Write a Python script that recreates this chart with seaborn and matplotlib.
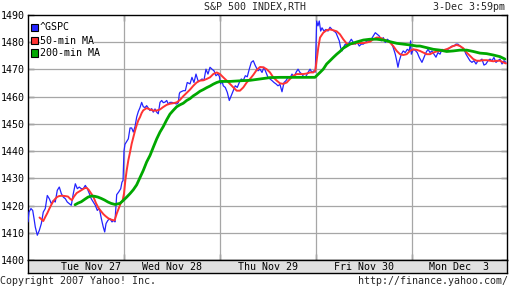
import matplotlib
matplotlib.use("Agg")
import matplotlib.pyplot as plt
import seaborn as sns
import pandas as pd
from matplotlib.patches import Rectangle

# ---------------- data (time in trading days since Tue Nov 27 open) ----------------
gspc_t = [0.000, 0.010, 0.031, 0.049, 0.063, 0.076, 0.097, 0.118, 0.139, 0.159, 0.180, 0.201,
          0.222, 0.243, 0.264, 0.284, 0.305, 0.326, 0.347, 0.368, 0.389, 0.409, 0.430, 0.451,
          0.472, 0.493, 0.514, 0.534, 0.555, 0.576, 0.597, 0.618, 0.639, 0.659, 0.680, 0.701,
          0.722, 0.743, 0.764, 0.784, 0.799, 0.813, 0.833, 0.854, 0.875, 0.896, 0.906, 0.924,
          0.945, 0.966, 0.979, 0.990,
          1.000, 1.010, 1.028, 1.045, 1.063, 1.080, 1.097, 1.115, 1.132, 1.149, 1.167, 1.184,
          1.201, 1.219, 1.236, 1.253, 1.271, 1.289, 1.305, 1.323, 1.341, 1.357, 1.375, 1.393,
          1.409, 1.427, 1.445, 1.461, 1.479, 1.500, 1.521, 1.549, 1.566, 1.576, 1.583, 1.618,
          1.639, 1.659, 1.688, 1.708, 1.729, 1.750, 1.771, 1.792, 1.813, 1.833, 1.854, 1.875,
          1.896, 1.917, 1.938, 1.958, 1.979, 1.993,
          2.007, 2.021, 2.034, 2.055, 2.076, 2.097, 2.118, 2.139, 2.159, 2.180, 2.201, 2.222,
          2.243, 2.264, 2.284, 2.305, 2.326, 2.347, 2.368, 2.396, 2.417, 2.438, 2.458, 2.479,
          2.500, 2.521, 2.542, 2.563, 2.583, 2.604, 2.625, 2.646, 2.667, 2.688, 2.708, 2.729,
          2.750, 2.771, 2.792, 2.813, 2.833, 2.854, 2.875, 2.896, 2.917, 2.938, 2.958, 2.979,
          2.993,
          3.007, 3.021, 3.034, 3.049, 3.063, 3.083, 3.104, 3.125, 3.146, 3.167, 3.188, 3.208,
          3.229, 3.243, 3.257, 3.271, 3.284, 3.305, 3.326, 3.347, 3.368, 3.389, 3.409, 3.430,
          3.451, 3.472, 3.493, 3.514, 3.534, 3.555, 3.576, 3.597, 3.618, 3.639, 3.659, 3.680,
          3.701, 3.722, 3.743, 3.764, 3.784, 3.805, 3.826, 3.841, 3.854, 3.868, 3.889, 3.909,
          3.930, 3.951, 3.972, 3.986, 3.993,
          4.014, 4.034, 4.055, 4.076, 4.104, 4.125, 4.146, 4.167, 4.188, 4.208, 4.229, 4.250,
          4.271, 4.292, 4.313, 4.333, 4.354, 4.375, 4.396, 4.417, 4.438, 4.458, 4.479, 4.500,
          4.521, 4.542, 4.563, 4.583, 4.604, 4.625, 4.646, 4.667, 4.688, 4.708, 4.729, 4.750,
          4.771, 4.792, 4.813, 4.833, 4.854, 4.875, 4.896, 4.917, 4.938, 4.958, 4.979]
gspc_v = [1414.0, 1417.6, 1418.9, 1418.2, 1415.2, 1412.1, 1409.1, 1410.9, 1413.4, 1417.6, 1418.9, 1423.7,
          1422.5, 1420.7, 1421.9, 1421.3, 1425.6, 1426.8, 1424.4, 1423.1, 1422.5, 1421.3, 1420.7, 1420.1,
          1424.4, 1428.0, 1426.2, 1426.8, 1426.2, 1426.2, 1427.4, 1426.2, 1424.4, 1422.5, 1421.3, 1420.1,
          1418.2, 1419.0, 1415.2, 1412.1, 1410.3, 1413.4, 1414.6, 1415.2, 1414.0, 1414.6, 1414.0, 1424.0,
          1425.0, 1426.2, 1428.6, 1429.2,
          1440.0, 1442.5, 1443.5, 1444.5, 1448.5, 1448.5, 1447.0, 1449.0, 1452.5, 1454.5, 1456.0, 1457.9,
          1456.3, 1456.0, 1456.7, 1455.8, 1454.9, 1455.6, 1454.3, 1455.5, 1454.3, 1453.7, 1457.9, 1458.6,
          1457.8, 1458.0, 1458.6, 1457.3, 1457.9, 1457.9, 1457.6, 1457.3, 1457.8, 1461.0, 1461.6, 1462.2,
          1462.2, 1465.2, 1464.7, 1467.1, 1465.2, 1468.3, 1465.9, 1465.9, 1466.5, 1466.0, 1470.1, 1468.3,
          1470.8, 1470.1, 1469.5, 1467.7, 1468.3, 1467.5,
          1464.7, 1465.9, 1464.0, 1463.4, 1461.6, 1458.6, 1460.4, 1462.2, 1464.0, 1463.4, 1465.2, 1466.5,
          1466.0, 1467.7, 1467.3, 1470.1, 1472.6, 1473.2, 1471.4, 1469.5, 1470.1, 1468.9, 1470.8, 1468.9,
          1467.1, 1466.5, 1465.9, 1465.2, 1464.7, 1464.0, 1464.5, 1461.8, 1465.2, 1465.9, 1467.1, 1466.8,
          1468.3, 1467.1, 1468.9, 1470.1, 1468.9, 1468.3, 1467.1, 1467.5, 1468.9, 1470.1, 1468.9, 1469.5,
          1469.0,
          1487.8, 1486.0, 1487.8, 1484.1, 1485.3, 1484.1, 1484.7, 1484.1, 1485.5, 1484.7, 1484.1, 1483.5,
          1481.7, 1480.5, 1478.0, 1476.8, 1478.0, 1479.3, 1479.0, 1479.9, 1481.1, 1479.9, 1479.3, 1479.9,
          1478.6, 1479.3, 1479.3, 1479.9, 1480.5, 1480.5, 1481.1, 1482.3, 1483.5, 1482.9, 1482.3, 1480.5,
          1481.7, 1479.9, 1481.1, 1480.5, 1479.9, 1478.0, 1475.6, 1473.2, 1470.8, 1473.2, 1475.6, 1476.8,
          1476.2, 1477.4, 1476.8, 1480.5, 1475.6,
          1477.4, 1477.0, 1476.2, 1474.4, 1472.6, 1474.4, 1476.2, 1477.4, 1476.2, 1476.8, 1475.6, 1474.5,
          1476.2, 1475.6, 1477.4, 1476.8, 1477.4, 1477.4, 1478.0, 1478.6, 1478.6, 1479.3, 1479.3, 1478.6,
          1478.0, 1477.4, 1475.6, 1474.4, 1473.2, 1472.6, 1473.2, 1472.0, 1473.2, 1473.2, 1473.8, 1471.6,
          1472.0, 1473.2, 1473.8, 1473.2, 1474.4, 1472.6, 1473.2, 1473.8, 1472.0, 1473.2, 1472.6]

ma50_t = [0.120, 0.139, 0.159, 0.180, 0.201, 0.222, 0.243, 0.264, 0.284, 0.305, 0.326, 0.354,
          0.385, 0.417, 0.438, 0.458, 0.479, 0.507, 0.534, 0.563, 0.591, 0.611, 0.632, 0.659,
          0.680, 0.708, 0.736, 0.764, 0.784, 0.805, 0.833, 0.854, 0.889, 0.903, 0.924, 0.945,
          0.966, 0.986,
          1.000, 1.014, 1.028, 1.045, 1.063, 1.080, 1.097, 1.115, 1.132, 1.149, 1.167, 1.184,
          1.201, 1.236, 1.271, 1.305, 1.341, 1.375, 1.409, 1.445, 1.479, 1.514, 1.549, 1.583,
          1.618, 1.653, 1.688, 1.722, 1.757, 1.792, 1.826, 1.861, 1.896, 1.930, 1.966,
          2.000, 2.034, 2.070, 2.104, 2.139, 2.174, 2.208, 2.243, 2.278, 2.313, 2.347, 2.382,
          2.417, 2.451, 2.486, 2.521, 2.555, 2.591, 2.625, 2.659, 2.695, 2.729, 2.764, 2.799,
          2.833, 2.868, 2.903, 2.938, 2.972, 2.993,
          3.007, 3.024, 3.042, 3.076, 3.111, 3.146, 3.180, 3.216, 3.250, 3.284, 3.320, 3.354,
          3.389, 3.424, 3.458, 3.493, 3.528, 3.563, 3.597, 3.632, 3.667, 3.701, 3.736, 3.771,
          3.805, 3.841, 3.875, 3.909, 3.945, 3.979,
          4.014, 4.049, 4.083, 4.118, 4.153, 4.188, 4.222, 4.257, 4.292, 4.326, 4.361, 4.396,
          4.430, 4.466, 4.500, 4.534, 4.570, 4.604, 4.639, 4.674, 4.708, 4.743, 4.778, 4.813,
          4.847, 4.882, 4.917, 4.951, 4.979]
ma50_v = [1415.6, 1415.0, 1414.3, 1415.8, 1417.2, 1418.8, 1420.3, 1421.6, 1422.5, 1423.2, 1423.5, 1423.6,
          1423.5, 1423.3, 1422.5, 1422.0, 1423.3, 1424.6, 1425.2, 1425.8, 1426.4, 1426.5, 1425.8, 1424.4,
          1423.3, 1420.9, 1419.0, 1417.8, 1416.9, 1416.2, 1415.4, 1415.0, 1414.6, 1414.6, 1417.0, 1418.9,
          1420.9, 1421.9,
          1424.4, 1429.2, 1432.9, 1436.6, 1439.6, 1442.7, 1445.0, 1447.5, 1449.5, 1451.3, 1452.5, 1454.0,
          1455.0, 1455.8, 1455.3, 1454.9, 1454.9, 1455.3, 1456.2, 1457.0, 1457.4, 1457.6, 1457.9, 1458.8,
          1460.2, 1461.4, 1462.6, 1464.0, 1465.2, 1465.9, 1466.0, 1466.5, 1467.1, 1468.3, 1468.9,
          1468.3, 1467.1, 1465.9, 1464.7, 1463.4, 1462.2, 1462.2, 1463.4, 1465.2, 1466.5, 1468.0, 1469.8,
          1470.9, 1470.8, 1470.1, 1468.9, 1467.1, 1465.9, 1464.9, 1464.7, 1465.2, 1466.5, 1467.7, 1468.3,
          1468.3, 1468.3, 1468.5, 1468.9, 1468.9, 1469.5,
          1473.2, 1478.0, 1481.7, 1483.5, 1484.4, 1484.7, 1484.4, 1484.0, 1482.9, 1481.1, 1479.5, 1479.3,
          1479.4, 1479.7, 1479.7, 1479.7, 1479.9, 1480.2, 1481.1, 1481.7, 1481.7, 1481.1, 1480.5, 1479.9,
          1478.6, 1476.8, 1475.6, 1475.3, 1475.6, 1476.8,
          1477.4, 1477.2, 1476.8, 1476.2, 1475.6, 1475.6, 1476.2, 1476.6, 1476.8, 1477.1, 1477.4, 1478.0,
          1478.6, 1479.0, 1478.6, 1477.8, 1476.2, 1475.0, 1473.8, 1473.2, 1473.2, 1473.4, 1473.4, 1473.2,
          1473.0, 1473.2, 1473.2, 1472.6, 1472.2]

ma200_t = [0.490, 0.521, 0.555, 0.591, 0.625, 0.659, 0.695, 0.729, 0.764, 0.799, 0.833, 0.865,
           0.906, 0.958, 0.993,
           1.028, 1.063, 1.097, 1.132, 1.167, 1.201, 1.236, 1.271, 1.305, 1.341, 1.375, 1.409,
           1.445, 1.479, 1.514, 1.549, 1.583, 1.618, 1.653, 1.688, 1.722, 1.757, 1.792, 1.826,
           1.861, 1.896, 1.930, 1.966,
           2.000, 2.104, 2.243, 2.313, 2.417, 2.521, 2.625, 2.729, 2.833, 2.938, 2.990,
           3.007, 3.042, 3.076, 3.111, 3.146, 3.180, 3.216, 3.250, 3.284, 3.354, 3.424, 3.493,
           3.563, 3.632, 3.701, 3.771, 3.841, 3.909, 3.979,
           4.049, 4.083, 4.153, 4.222, 4.292, 4.361, 4.430, 4.500, 4.570, 4.639, 4.708, 4.778,
           4.847, 4.917, 4.969]
ma200_v = [1420.3, 1420.9, 1421.4, 1422.3, 1423.1, 1423.5, 1423.4, 1423.1, 1422.6, 1422.0, 1421.3, 1420.8,
           1420.4, 1420.8, 1421.9,
           1423.1, 1424.4, 1425.8, 1427.6, 1430.3, 1432.9, 1436.0, 1438.4, 1441.4, 1444.5, 1447.0, 1449.0,
           1451.5, 1453.6, 1455.0, 1456.3, 1457.0, 1457.6, 1458.6, 1459.3, 1460.3, 1461.1, 1462.0, 1462.6,
           1463.3, 1463.9, 1464.6, 1465.2,
           1465.6, 1465.6, 1465.9, 1466.0, 1466.5, 1467.0, 1467.1, 1467.1, 1467.1, 1467.1, 1467.1,
           1467.7, 1468.9, 1470.1, 1472.0, 1473.2, 1474.4, 1475.6, 1476.6, 1477.8, 1479.3, 1480.1, 1480.8,
           1481.1, 1481.1, 1480.8, 1480.2, 1479.6, 1479.3, 1479.0,
           1478.6, 1478.6, 1478.0, 1477.4, 1477.1, 1476.6, 1476.8, 1477.1, 1477.1, 1476.6, 1476.0, 1475.8,
           1475.3, 1474.7, 1473.8]

y_ticks = [1400, 1410, 1420, 1430, 1440, 1450, 1460, 1470, 1480, 1490]
day_labels = ["Tue Nov 27", "Wed Nov 28", "Thu Nov 29", "Fri Nov 30", "Mon Dec  3"]
day_label_pos = [0.66, 1.5, 2.5, 3.5, 4.49]
series_names = ["^GSPC", "50-min MA", "200-min MA"]
title = "S&P 500 INDEX,RTH"
stamp = "3-Dec 3:59pm"
copyright_txt = "Copyright 2007 Yahoo! Inc."
url_txt = "http://finance.yahoo.com/"

# ---------------- style ----------------
sns.set_style("white")
plt.rcParams['font.family'] = ['DejaVu Sans Mono', 'DejaVu Sans']
FS = 7.2
BLUE, RED, GREEN = "#2323ff", "#ff3333", "#00a800"
GRID = "#a6a6a6"

W, H = 512, 288
fig = plt.figure(figsize=(W / 100, H / 100), dpi=100)
fig.patch.set_facecolor("white")
ax = fig.add_axes([28 / W, 1 - 260 / H, 479 / W, 245 / H])

df_b = pd.DataFrame({"t": gspc_t, "v": gspc_v})
df_r = pd.DataFrame({"t": ma50_t, "v": ma50_v})
df_g = pd.DataFrame({"t": ma200_t, "v": ma200_v})

sns.lineplot(data=df_b, x="t", y="v", ax=ax, color=BLUE, linewidth=0.9,
             estimator=None, sort=False, legend=False, zorder=3)
sns.lineplot(data=df_r, x="t", y="v", ax=ax, color=RED, linewidth=1.4,
             estimator=None, sort=False, legend=False, zorder=4)
sns.lineplot(data=df_g, x="t", y="v", ax=ax, color=GREEN, linewidth=2.0,
             estimator=None, sort=False, legend=False, zorder=5)

ax.set_xlim(0, 4.99)
ax.set_ylim(1400, 1489.8)
ax.set_xlabel("")
ax.set_ylabel("")

# grid
for yv in y_ticks[1:-1]:
    ax.axhline(yv, color=GRID, lw=0.9, zorder=1)
for xv in [1, 2, 3, 4]:
    ax.axvline(xv, color=GRID, lw=0.9, zorder=1)

ax.set_yticks(y_ticks)
ax.set_yticklabels([str(v) for v in y_ticks], fontsize=FS)
ax.set_xticks([1, 2, 3, 4])
ax.set_xticklabels([])
ax.tick_params(axis="y", direction="in", length=4, width=0.9, color="black",
               left=True, right=True, pad=2, labelcolor="black")
ax.tick_params(axis="x", direction="in", length=4, width=0.9, color="black",
               bottom=True, top=True)
for s in ax.spines.values():
    s.set_color("black")
    s.set_linewidth(1.0)

# bottom date band
band = fig.add_axes([28 / W, 1 - 273 / H, 479 / W, 13 / H])
band.set_facecolor("#e0e0e0")
band.set_xlim(0, 4.99)
band.set_ylim(0, 1)
band.set_xticks([])
band.set_yticks([])
for s in band.spines.values():
    s.set_color("black")
    s.set_linewidth(1.0)
for lab, pos in zip(day_labels, day_label_pos):
    band.text(pos, 0.45, lab, ha="center", va="center", fontsize=FS, color="black")

# legend
colors = [BLUE, RED, GREEN]
leg_y = [27.5, 40.5, 53.0]
for name, c, yc in zip(series_names, colors, leg_y):
    fig.patches.append(Rectangle((31 / W, 1 - (yc + 3.5) / H), 7 / W, 7 / H,
                                 transform=fig.transFigure, facecolor=c,
                                 edgecolor="black", lw=0.8, zorder=10))
    fig.text(40 / W, 1 - yc / H, name, ha="left", va="center", fontsize=FS,
             color="black", zorder=10,
             bbox=dict(facecolor="white", edgecolor="none", pad=0.3))

# header/footer text
fig.text(255 / W, 1 - 7 / H, title, ha="center", va="center", fontsize=FS)
fig.text(505 / W, 1 - 7 / H, stamp, ha="right", va="center", fontsize=FS)
fig.text(0 / W, 1 - 281.5 / H, copyright_txt, ha="left", va="center", fontsize=FS)
fig.text(508 / W, 1 - 281.5 / H, url_txt, ha="right", va="center", fontsize=FS)

fig.savefig("out.png", dpi=100, facecolor="white")
